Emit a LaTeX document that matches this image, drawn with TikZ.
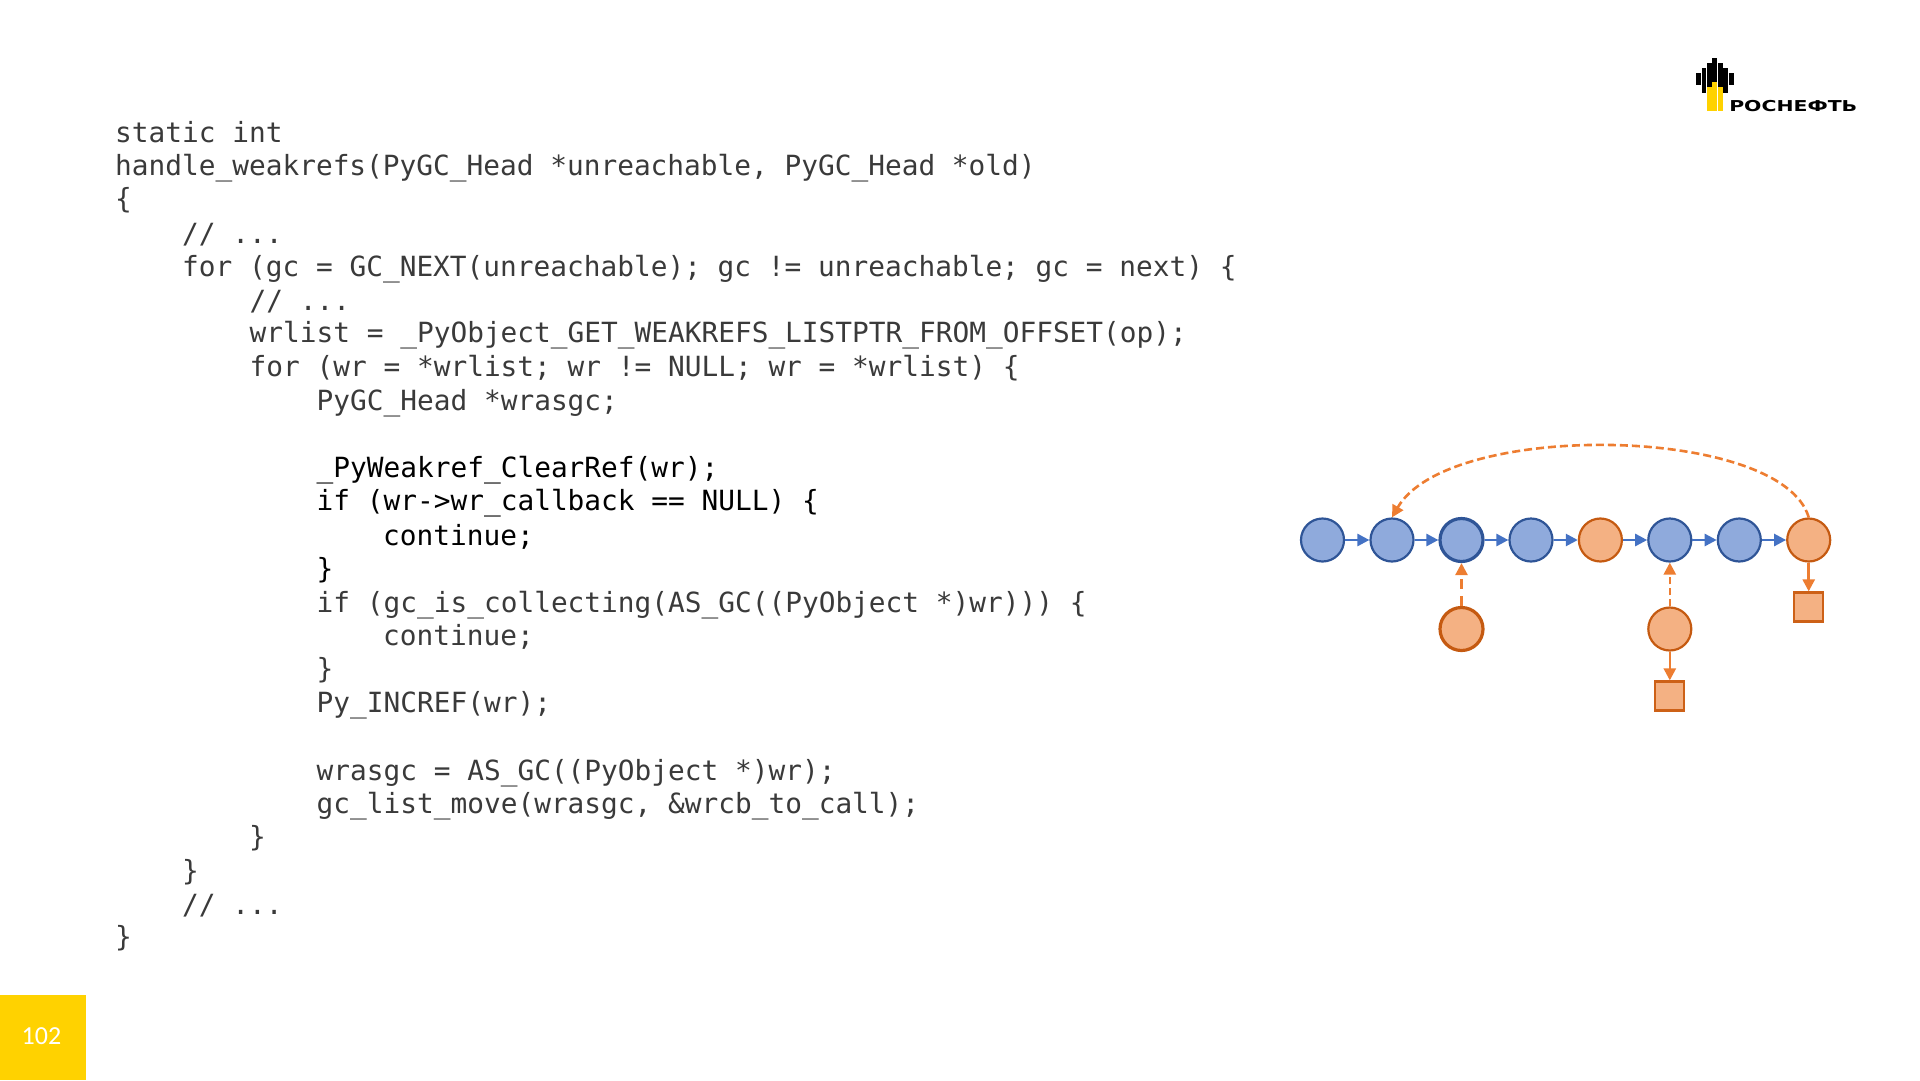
\documentclass[tikz,border=0pt]{standalone}
\usepackage{fontspec}
\setmainfont{Carlito}
\setmonofont{DejaVu Sans Mono}
\newfontfamily\logofont{DejaVu Sans}
\usetikzlibrary{arrows.meta}
\definecolor{blueFill}{HTML}{8FAADC}
\definecolor{blueLine}{HTML}{2F5597}
\definecolor{blueArrow}{HTML}{4472C4}
\definecolor{orangeFill}{HTML}{F4B183}
\definecolor{orangeLine}{HTML}{C55A11}
\definecolor{orangeArrow}{HTML}{ED7D31}
\definecolor{codeGray}{HTML}{3A3A3A}
\definecolor{slideYellow}{HTML}{FFD200}
\tikzset{
	codeline/.style={anchor=base west, inner sep=0pt, font=\ttfamily\fontsize{27.8}{33}\selectfont, text=codeGray},
	codehot/.style={codeline, text=black},
	live/.style={circle, draw=blueLine, fill=blueFill, line width=2.2pt, minimum size=43pt, inner sep=0pt},
	dead/.style={circle, draw=orangeLine, fill=orangeFill, line width=2.2pt, minimum size=43pt, inner sep=0pt},
	cbbox/.style={rectangle, draw=orangeLine!80!orangeArrow, fill=orangeFill, line width=2.2pt, minimum size=29pt, inner sep=0pt},
	nextlink/.style={draw=blueArrow, line width=2.6pt, -{Triangle[length=12pt,width=12pt]}},
	reflink/.style={draw=orangeArrow, line width=2.6pt, -{Triangle[length=12pt,width=12pt]}},
}
\begin{document}
\begin{tikzpicture}[x=1pt,y=-1pt]
	\useasboundingbox (0,0) rectangle (1920,1080);
	% code
	\node[codeline] (l1) at (115,142) {static int};
	\node[codeline] (l2) at (115,175) {handle\_weakrefs(PyGC\_Head *unreachable, PyGC\_Head *old)};
	\node[codeline] (l3) at (115,208.5) {\{};
	\node[codeline] (l4) at (182,243.5) {// ...};
	\node[codeline] (l5) at (182,276) {for (gc = GC\_NEXT(unreachable); gc != unreachable; gc = next) \{};
	\node[codeline] (l6) at (249.5,310.5) {// ...};
	\node[codeline] (l7) at (249.5,342.5) {wrlist = \_PyObject\_GET\_WEAKREFS\_LISTPTR\_FROM\_OFFSET(op);};
	\node[codeline] (l8) at (249.5,376.5) {for (wr = *wrlist; wr != NULL; wr = *wrlist) \{};
	\node[codeline] (l9) at (316.5,410.5) {PyGC\_Head *wrasgc;};
	\node[codehot] (l10) at (316.5,477.5) {\_PyWeakref\_ClearRef(wr);};
	\node[codehot] (l11) at (316.5,510.5) {if (wr->wr\_callback == NULL) \{};
	\node[codehot] (l12) at (383,545) {continue;};
	\node[codehot] (l13) at (316.5,578) {\}};
	\node[codeline] (l14) at (316.5,612) {if (gc\_is\_collecting(AS\_GC((PyObject *)wr))) \{};
	\node[codeline] (l15) at (383,645.5) {continue;};
	\node[codeline] (l16) at (316.5,678) {\}};
	\node[codeline] (l17) at (316.5,712.5) {Py\_INCREF(wr);};
	\node[codeline] (l18) at (316.5,780) {wrasgc = AS\_GC((PyObject *)wr);};
	\node[codeline] (l19) at (316.5,813.5) {gc\_list\_move(wrasgc, \&wrcb\_to\_call);};
	\node[codeline] (l20) at (249,846.5) {\}};
	\node[codeline] (l21) at (182,880) {\}};
	\node[codeline] (l22) at (182,914.5) {// ...};
	\node[codeline] (l23) at (115,946.5) {\}};
	% list
	\node[live] (n1) at (1322.5,540) {};
	\node[live] (n2) at (1392,540) {};
	\node[live, line width=3.2pt] (n3) at (1461.5,540) {};
	\node[live] (n4) at (1531,540) {};
	\node[dead] (n5) at (1600.4,540) {};
	\node[live] (n6) at (1669.8,540) {};
	\node[live] (n7) at (1739.3,540) {};
	\node[dead] (n8) at (1808.7,540) {};
	\node[dead, line width=3.2pt] (wr1) at (1461.5,629) {};
	\node[dead] (wr2) at (1669.8,629) {};
	\node[cbbox] (cb1) at (1669.8,696) {};
	\node[cbbox] (cb2) at (1808.7,607) {};
	\foreach \a/\b in {n1/n2,n2/n3,n3/n4,n4/n5,n5/n6,n6/n7,n7/n8}
		\draw[nextlink] (\a) -- (\b);
	\draw[reflink, dash pattern=on 10pt off 7pt] (wr1) -- (n3);
	\draw[reflink, dash pattern=on 7pt off 4pt] (wr2) -- (n6);
	\draw[reflink] (wr2) -- (cb1);
	\draw[reflink] (n8) -- (cb2);
	\draw[reflink, dash pattern=on 8pt off 4pt] (n8.north) .. controls (1782,425) and (1448,420) .. (n2.north);
	% logo
	\foreach \xa/\xb/\ya/\yb in {1696/1701/72.5/85, 1701.6/1706.4/67.5/93, 1707/1711.8/63/87, 1712.4/1717.2/58/82, 1717.8/1722.7/63/87, 1723.3/1728.2/67.5/93, 1728.8/1733.7/72.5/85}
		\fill[black] (\xa,\ya) rectangle (\xb,\yb);
	\foreach \xa/\xb/\ya in {1707/1711.8/87, 1712.4/1717.2/82, 1717.8/1722.7/87}
		\fill[slideYellow] (\xa,\ya) rectangle (\xb,111);
	\node[anchor=base west, inner sep=0pt, font=\logofont\bfseries\fontsize{15}{15}\selectfont, xscale=1.36] (logo) at (1729,111) {РОСНЕФТЬ};
	% page number
	\node[rectangle, fill=slideYellow, minimum width=86pt, minimum height=85pt, inner sep=0pt, anchor=south west] (pagebox) at (0,1080) {};
	\node[text=white, font=\fontsize{26}{26}\selectfont] (pagenum) at (41.5,1036) {102};
\end{tikzpicture}
\end{document}
